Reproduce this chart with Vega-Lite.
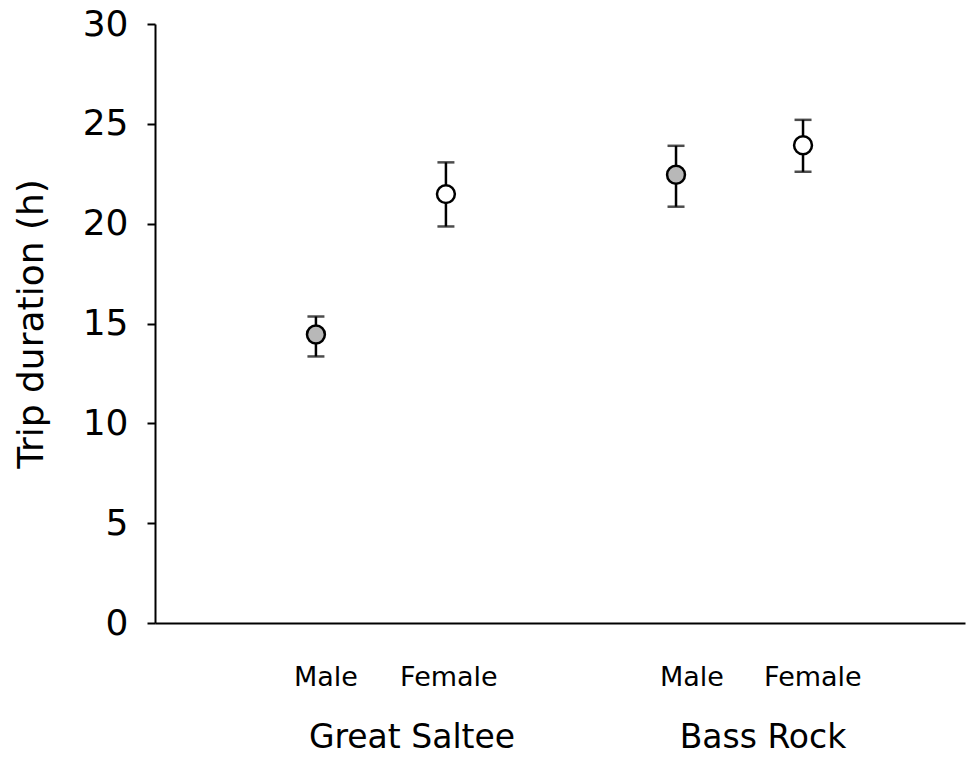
{
  "$schema": "https://vega.github.io/schema/vega-lite/v6.json",
  "width": 810,
  "height": 599,
  "autosize": "none",
  "padding": {"left": 155, "top": 24, "right": 2, "bottom": 136},
  "background": "white",
  "config": {
    "view": {"stroke": null},
    "font": "DejaVu Sans"
  },
  "datasets": {
    "points": [
      {"site": "Great Saltee", "sex": "Male", "pos": 1.0, "mean": 14.45, "low": 13.35, "high": 15.35},
      {"site": "Great Saltee", "sex": "Female", "pos": 2.0, "mean": 21.48, "low": 19.86, "high": 23.07},
      {"site": "Bass Rock", "sex": "Male", "pos": 3.77, "mean": 22.45, "low": 20.85, "high": 23.9},
      {"site": "Bass Rock", "sex": "Female", "pos": 4.747, "mean": 23.93, "low": 22.6, "high": 25.2}
    ],
    "catLabels": [
      {"label": "Male", "pos": 1.077, "y": -2.75},
      {"label": "Female", "pos": 2.023, "y": -2.75},
      {"label": "Male", "pos": 3.893, "y": -2.75},
      {"label": "Female", "pos": 4.823, "y": -2.75}
    ],
    "groupLabels": [
      {"label": "Great Saltee", "pos": 1.739, "y": -5.75},
      {"label": "Bass Rock", "pos": 4.439, "y": -5.75}
    ]
  },
  "layer": [
    {
      "data": {"name": "points"},
      "mark": {"type": "rule", "color": "black", "strokeWidth": 2.5},
      "encoding": {
        "x": {"field": "pos", "type": "quantitative", "scale": {"domain": [-0.238, 5.993], "nice": false, "zero": false},
          "axis": {"labels": false, "ticks": false, "title": null, "grid": false, "domainColor": "black", "domainWidth": 2}},
        "y": {"field": "low", "type": "quantitative", "scale": {"domain": [0, 30], "nice": false},
          "axis": {"values": [0, 5, 10, 15, 20, 25, 30], "grid": false, "domainColor": "black", "domainWidth": 2,
            "tickColor": "black", "tickWidth": 2, "tickSize": 8, "labelFontSize": 36, "labelColor": "black",
            "labelPadding": 19, "title": "Trip duration (h)", "titleFontSize": 36, "titleFontWeight": "normal",
            "titleColor": "black", "titlePadding": 32}},
        "y2": {"field": "high"}
      }
    },
    {
      "data": {"name": "points"},
      "mark": {"type": "tick", "orient": "horizontal", "color": "black", "size": 17, "thickness": 2.5},
      "encoding": {
        "x": {"field": "pos", "type": "quantitative"},
        "y": {"field": "low", "type": "quantitative"}
      }
    },
    {
      "data": {"name": "points"},
      "mark": {"type": "tick", "orient": "horizontal", "color": "black", "size": 17, "thickness": 2.5},
      "encoding": {
        "x": {"field": "pos", "type": "quantitative"},
        "y": {"field": "high", "type": "quantitative"}
      }
    },
    {
      "data": {"name": "points"},
      "mark": {"type": "point", "shape": "circle", "filled": false, "size": 320, "stroke": "black", "strokeWidth": 2.5, "opacity": 1},
      "encoding": {
        "x": {"field": "pos", "type": "quantitative"},
        "y": {"field": "mean", "type": "quantitative"},
        "fill": {"field": "sex", "type": "nominal", "scale": {"domain": ["Male", "Female"], "range": ["#b8b8b8", "white"]}, "legend": null}
      }
    },
    {
      "data": {"name": "catLabels"},
      "mark": {"type": "text", "fontSize": 27, "baseline": "middle", "align": "center", "color": "black"},
      "encoding": {
        "x": {"field": "pos", "type": "quantitative"},
        "y": {"field": "y", "type": "quantitative"},
        "text": {"field": "label"}
      }
    },
    {
      "data": {"name": "groupLabels"},
      "mark": {"type": "text", "fontSize": 33, "baseline": "middle", "align": "center", "color": "black"},
      "encoding": {
        "x": {"field": "pos", "type": "quantitative"},
        "y": {"field": "y", "type": "quantitative"},
        "text": {"field": "label"}
      }
    }
  ]
}
